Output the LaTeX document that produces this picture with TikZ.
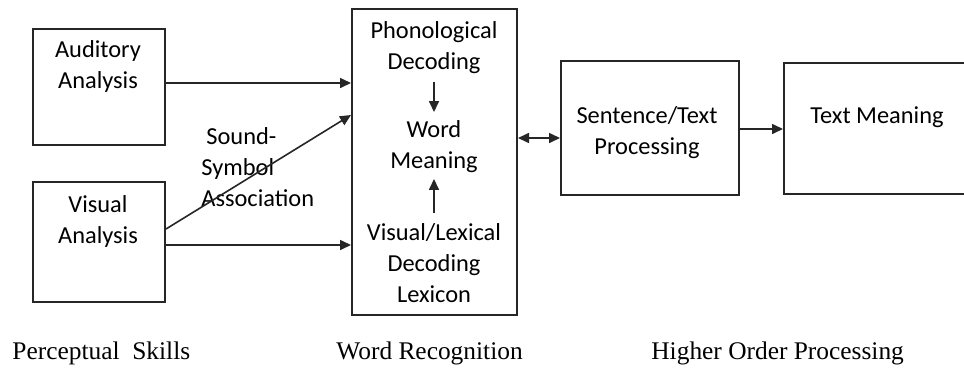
\documentclass[tikz,border=0pt]{standalone}
\usepackage{fontspec}
\setmainfont{Carlito}
\newfontfamily\labelfont{Liberation Serif}
\usetikzlibrary{arrows.meta, positioning}
\tikzstyle{block} = [rectangle,
			draw=black!85,
			line width = 1pt]
\tikzstyle{txt} = [align = center,
			inner sep = 0pt,
			font = \fontsize{12.2}{15.5}\selectfont]
\tikzstyle{stage} = [anchor = west,
			inner sep = 0pt,
			font = \labelfont\fontsize{12.7}{14}\selectfont]
\tikzstyle{line} = [draw=black!85, line width = 0.8pt, -{Triangle[length=5.5pt, width=5pt]}]
\tikzstyle{dline} = [draw=black!85, line width = 0.8pt, {Triangle[length=5.5pt, width=5pt]}-{Triangle[length=5.5pt, width=5pt]}]

\begin{document}
\begin{tikzpicture}[x = 0.5pt, y = -0.5pt]
	\useasboundingbox (0,0) rectangle (964,370);
	% boxes
	\node [block, minimum width = 66pt, minimum height = 58pt] (aud) at (99,87) {};
	\node [block, minimum width = 66pt, minimum height = 60pt] (vis) at (99,242) {};
	\node [block, minimum width = 82.5pt, minimum height = 153pt] (word) at (434.5,162) {};
	\node [block, minimum width = 89pt, minimum height = 67pt] (sent) at (650,128) {};
	\node [block, minimum width = 110pt, minimum height = 65.5pt, anchor = west] (mean) at (783,128.5) {};
	% texts
	\node [txt] (audText) at (98,66) {Auditory\\Analysis};
	\node [txt] (visText) at (98,221) {Visual\\Analysis};
	\node [txt, align = left, anchor = west] (assoc) at (201,167) {\hspace{2.5pt}Sound-\\Symbol\\Association};
	\node [txt] (phon) at (434,47.5) {Phonological\\Decoding};
	\node [txt] (wm) at (434,146.5) {Word\\Meaning};
	\node [txt] (lex) at (434,263) {Visual/Lexical\\Decoding\\Lexicon};
	\node [txt] (sentText) at (647,133) {Sentence/Text\\Processing};
	\node [txt] (meanText) at (877,117) {Text Meaning};
	% stage names
	\node [stage] (perc) at (12,353) {Perceptual~~Skills};
	\node [stage] (recog) at (336,353) {Word Recognition};
	\node [stage] (higher) at (651,353) {Higher Order Processing};
	% connectors
	\path [line] (aud.east |- 0,83) -- (word.west |- 0,83);
	\path [line] (vis.east |- 0,229) -- (word.west |- 0,115);
	\path [line] (vis.east |- 0,245) -- (word.west |- 0,245);
	\path [line, shorten <= 4pt, shorten >= 4pt] (phon) -- (wm);
	\path [line, shorten <= 5pt, shorten >= 3pt] (lex) -- (wm);
	\path [dline] (word.east |- 0,138) -- (sent.west |- 0,138);
	\path [line] (sent.east |- 0,129) -- (mean.west |- 0,129);
\end{tikzpicture}
\end{document}
